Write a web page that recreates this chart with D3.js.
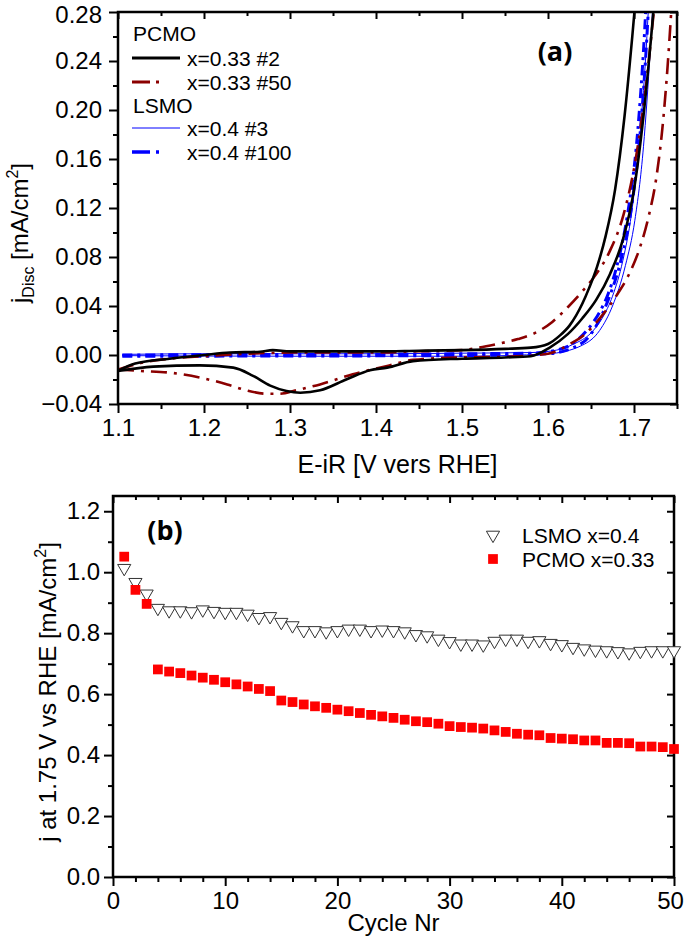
<!DOCTYPE html>
<html><head><meta charset="utf-8">
<script src="https://cdn.jsdelivr.net/npm/d3@7"></script>
<style>body{margin:0;background:#fff} text{font-family:"Liberation Sans",Arial,sans-serif}</style>
</head><body><svg id="c" width="685" height="937"></svg>
<script>
// ---------- DATA (top panel: CV curves, [E (V), j (mA/cm2)]) ----------
const pcmo2Fwd = [[1.1,-0.013],[1.12,-0.007],[1.16,-0.003],[1.2,0],[1.23,0.002],[1.265,0.0027],[1.28,0.004],[1.3,0.003],[1.35,0.003],[1.4,0.003],[1.45,0.0035],[1.5,0.004],[1.55,0.005],[1.58,0.006],[1.6,0.009],[1.614,0.016],[1.625,0.024],[1.64,0.042],[1.648,0.055],[1.657,0.072],[1.667,0.097],[1.678,0.135],[1.689,0.195],[1.698,0.26],[1.703,0.3]];
const pcmo2Rev = [[1.1,-0.013],[1.141,-0.0095],[1.195,-0.0085],[1.234,-0.0103],[1.257,-0.017],[1.277,-0.025],[1.296,-0.0294],[1.312,-0.0308],[1.335,-0.0288],[1.366,-0.0198],[1.393,-0.0124],[1.413,-0.0103],[1.443,-0.005],[1.5,-0.003],[1.55,-0.002],[1.58,-0.001],[1.602,0.006],[1.623,0.017],[1.64,0.03],[1.656,0.045],[1.672,0.066],[1.687,0.094],[1.7,0.135],[1.711,0.195],[1.72,0.26],[1.725,0.3]];
const pcmo50Fwd = [[1.1,-0.012],[1.13,-0.006],[1.16,-0.003],[1.2,-0.001],[1.25,0.001],[1.3,0.002],[1.4,0.002],[1.45,0.003],[1.5,0.004],[1.52,0.006],[1.541,0.009],[1.565,0.013],[1.585,0.018],[1.605,0.027],[1.623,0.039],[1.64,0.052],[1.655,0.065],[1.672,0.085],[1.688,0.115],[1.702,0.16],[1.714,0.22],[1.723,0.28],[1.726,0.3]];
const pcmo50Rev = [[1.1,-0.0117],[1.126,-0.013],[1.16,-0.0144],[1.199,-0.019],[1.227,-0.024],[1.25,-0.029],[1.273,-0.0316],[1.288,-0.0316],[1.308,-0.0286],[1.335,-0.024],[1.373,-0.0157],[1.413,-0.009],[1.443,-0.004],[1.5,-0.002],[1.55,-0.0015],[1.6,0.001],[1.623,0.008],[1.643,0.017],[1.666,0.035],[1.681,0.05],[1.695,0.067],[1.707,0.088],[1.717,0.113],[1.726,0.145],[1.733,0.185],[1.739,0.235],[1.743,0.277],[1.745,0.3]];
const lsmo3Fwd = [[1.105,0.0005],[1.2,0.001],[1.3,0.001],[1.4,0.001],[1.5,0.0015],[1.58,0.002],[1.61,0.004],[1.63,0.009],[1.65,0.018],[1.663,0.03],[1.675,0.048],[1.687,0.077],[1.697,0.115],[1.707,0.18],[1.715,0.26],[1.718,0.3]];
const lsmo3Rev = [[1.105,-0.0005],[1.3,-0.001],[1.5,-0.001],[1.6,0.001],[1.64,0.008],[1.66,0.02],[1.675,0.04],[1.69,0.073],[1.701,0.11],[1.711,0.17],[1.719,0.25],[1.723,0.3]];
const lsmo100Fwd = [[1.105,0.0],[1.3,0.0005],[1.5,0.001],[1.58,0.0015],[1.61,0.004],[1.63,0.01],[1.645,0.02],[1.66,0.035],[1.67,0.05],[1.682,0.078],[1.693,0.117],[1.704,0.18],[1.712,0.26],[1.715,0.3]];
const lsmo100Rev = [[1.105,-0.001],[1.5,-0.0005],[1.6,0.001],[1.64,0.01],[1.657,0.025],[1.67,0.045],[1.685,0.078],[1.697,0.12],[1.707,0.18],[1.715,0.26],[1.718,0.3]];

// ---------- DATA (bottom panel: j at 1.75 V vs cycle) ----------
const cycles = d3.range(1, 51);
const lsmoJ = [1.013,0.967,0.929,0.882,0.874,0.874,0.871,0.877,0.872,0.869,0.869,0.863,0.852,0.855,0.836,0.825,0.809,0.809,0.805,0.809,0.814,0.814,0.809,0.811,0.809,0.805,0.796,0.792,0.781,0.773,0.765,0.765,0.762,0.774,0.781,0.781,0.774,0.776,0.767,0.763,0.754,0.749,0.745,0.743,0.740,0.736,0.741,0.743,0.743,0.743];
const pcmoJ = [1.051,0.942,0.896,0.681,0.674,0.669,0.661,0.654,0.647,0.639,0.632,0.625,0.617,0.610,0.579,0.574,0.566,0.560,0.555,0.549,0.544,0.538,0.532,0.527,0.522,0.516,0.511,0.508,0.503,0.495,0.492,0.490,0.487,0.481,0.476,0.470,0.467,0.465,0.456,0.454,0.452,0.448,0.448,0.440,0.440,0.439,0.428,0.428,0.426,0.420];

// ---------- TICKS ----------
const topXMajor = [1.1,1.2,1.3,1.4,1.5,1.6,1.7];
const topXMinor = [1.15,1.25,1.35,1.45,1.55,1.65,1.75];
const topYMajor = [-0.04,0,0.04,0.08,0.12,0.16,0.2,0.24,0.28];
const topYMinor = [-0.02,0.02,0.06,0.1,0.14,0.18,0.22,0.26];
const botXMajor = [0,10,20,30,40,50];
const botXMinor = [2,4,6,8,12,14,16,18,22,24,26,28,32,34,36,38,42,44,46,48];
const botYMajor = [0,0.2,0.4,0.6,0.8,1.0,1.2];
const botYMinor = [0.1,0.3,0.5,0.7,0.9,1.1];

const svg = d3.select('#c');
const TICKFONT = 24;

const xTop = d3.scaleLinear().domain([1.1,1.75]).range([118,677]);
const yTop = d3.scaleLinear().domain([-0.04,0.28]).range([404,12]);
const xBot = d3.scaleLinear().domain([0,50]).range([113,674]);
const yBot = d3.scaleLinear().domain([0,1.25]).range([877,496]);

function frame(x, y, xMaj, xMin, yMaj, yMin, xFmt, yFmt, padX, padY) {
  const [x0,x1] = x.range(), [y0,y1] = y.range();
  const g = svg.append('g');
  const style = sel => { sel.select('.domain').remove(); sel.selectAll('line').attr('stroke','#000').attr('stroke-width',2); sel.selectAll('text').attr('font-size',TICKFONT).attr('fill','#000').attr('font-family','"Liberation Sans",Arial,sans-serif'); };
  const bx = g.append('g').attr('transform',`translate(0,${y0})`).call(d3.axisBottom(x).tickValues(xMaj).tickSize(9).tickPadding(padX).tickFormat(xFmt)).call(style);
  g.append('g').attr('transform',`translate(0,${y0})`).call(d3.axisBottom(x).tickValues(xMin).tickSize(5).tickFormat('')).call(style);
  g.append('g').attr('transform',`translate(0,${y1})`).call(d3.axisTop(x).tickValues(xMaj).tickSize(-7).tickFormat('')).call(style);
  g.append('g').attr('transform',`translate(0,${y1})`).call(d3.axisTop(x).tickValues(xMin).tickSize(-4).tickFormat('')).call(style);
  const ly = g.append('g').attr('transform',`translate(${x0},0)`).call(d3.axisLeft(y).tickValues(yMaj).tickSize(9).tickPadding(padY).tickFormat(yFmt)).call(style);
  g.append('g').attr('transform',`translate(${x0},0)`).call(d3.axisLeft(y).tickValues(yMin).tickSize(5).tickFormat('')).call(style);
  g.append('g').attr('transform',`translate(${x1},0)`).call(d3.axisRight(y).tickValues(yMaj).tickSize(-7).tickFormat('')).call(style);
  g.append('g').attr('transform',`translate(${x1},0)`).call(d3.axisRight(y).tickValues(yMin).tickSize(-4).tickFormat('')).call(style);
  g.append('rect').attr('x',x0).attr('y',y1).attr('width',x1-x0).attr('height',y0-y1)
    .attr('fill','none').attr('stroke','#000').attr('stroke-width',2.5);
  return {bx, ly};
}

// ---------- TOP PANEL ----------
svg.append('clipPath').attr('id','clipTop').append('rect')
  .attr('x',xTop.range()[0]).attr('y',yTop.range()[1]).attr('width',xTop.range()[1]-xTop.range()[0]).attr('height',yTop.range()[0]-yTop.range()[1]);
const line = d3.line().x(d=>xTop(d[0])).y(d=>yTop(d[1])).curve(d3.curveMonotoneX);
const curves = svg.append('g').attr('clip-path','url(#clipTop)');
const series = [
  {d:lsmo3Fwd, c:'#0000ff', w:1, dash:null},
  {d:lsmo3Rev, c:'#0000ff', w:1, dash:null},
  {d:lsmo100Fwd, c:'#0000ff', w:3, dash:'10,5,3,5'},
  {d:lsmo100Rev, c:'#0000ff', w:3, dash:'10,5,3,5'},
  {d:pcmo50Fwd, c:'#8b0000', w:2.6, dash:'16,7,3,7'},
  {d:pcmo50Rev, c:'#8b0000', w:2.6, dash:'16,7,3,7'},
  {d:pcmo2Fwd, c:'#000', w:2.6, dash:null},
  {d:pcmo2Rev, c:'#000', w:2.6, dash:null},
];
series.forEach(s => curves.append('path').attr('d', line(s.d)).attr('fill','none')
  .attr('stroke', s.c).attr('stroke-width', s.w).attr('stroke-dasharray', s.dash));

const topAx = frame(xTop, yTop, topXMajor, topXMinor, topYMajor, topYMinor, d3.format('.1f'), d3.format('.2f'), 6, 7);
topAx.ly.selectAll('.tick text').filter(d => d === 0.28).attr('dy', '0.45em');

// legend (top)
const lg = svg.append('g').attr('font-size',21);
lg.append('text').attr('x',133).attr('y',40.5).text('PCMO');
lg.append('text').attr('x',133).attr('y',112.5).text('LSMO');
const legItems = [
  {y:58, t:'x=0.33 #2', c:'#000', w:3, dash:null, x2:180},
  {y:82, t:'x=0.33 #50', c:'#8b0000', w:3, dash:'18,6,3,6', x2:161},
  {y:128, t:'x=0.4 #3', c:'#0000ff', w:1, dash:null, x2:180},
  {y:152, t:'x=0.4 #100', c:'#0000ff', w:3.5, dash:'18,6,3,6', x2:161},
];
legItems.forEach(it => {
  lg.append('line').attr('x1',132).attr('x2',it.x2).attr('y1',it.y).attr('y2',it.y)
    .attr('stroke',it.c).attr('stroke-width',it.w).attr('stroke-dasharray',it.dash);
  lg.append('text').attr('x',187).attr('y',it.y+7.5).text(it.t);
});
svg.append('text').attr('x',555).attr('y',61).attr('text-anchor','middle')
  .style('font-family','"Open Sans",sans-serif').attr('font-weight','bold').attr('font-size',27).text('(a)');

// axis titles (top)
svg.append('text').attr('x',(xTop.range()[0]+xTop.range()[1])/2).attr('y',473).attr('text-anchor','middle')
  .attr('font-size',25).text('E-iR [V vers RHE]');
const yt = svg.append('text').attr('transform','translate(28,233) rotate(-90)').attr('text-anchor','middle').attr('font-size',24);
yt.append('tspan').text('j');
yt.append('tspan').attr('font-size',16).attr('dy',6).text('Disc');
yt.append('tspan').attr('dy',-6).text(' [mA/cm');
yt.append('tspan').attr('font-size',16).attr('dy',-10).text('2');
yt.append('tspan').attr('dy',10).text(']');

// ---------- BOTTOM PANEL ----------
const botAx = frame(xBot, yBot, botXMajor, botXMinor, botYMajor, botYMinor, d3.format('d'), d3.format('.1f'), 6, 4);
botAx.bx.selectAll('.tick text').filter(d => d === 50).attr('dx', -4);

const tri = d3.symbol().type(d3.symbolTriangle).size(75);
const sq = d3.symbol().type(d3.symbolSquare).size(95);
svg.append('g').selectAll('path').data(cycles).join('path')
  .attr('d', tri).attr('transform', (c,i) => `translate(${xBot(c)},${yBot(lsmoJ[i])}) rotate(180)`)
  .attr('fill','#fff').attr('stroke','#333').attr('stroke-width',1);
svg.append('g').selectAll('path').data(cycles).join('path')
  .attr('d', sq).attr('transform', (c,i) => `translate(${xBot(c)},${yBot(pcmoJ[i])})`)
  .attr('fill','#ff0000');

// legend (bottom)
svg.append('path').attr('d',tri).attr('transform','translate(493,535) rotate(180)').attr('fill','#fff').attr('stroke','#333');
svg.append('path').attr('d',sq).attr('transform','translate(493,559)').attr('fill','#ff0000');
svg.append('text').attr('x',522).attr('y',542.5).attr('font-size',21).text('LSMO x=0.4');
svg.append('text').attr('x',522).attr('y',566.5).attr('font-size',21).text('PCMO x=0.33');
svg.append('text').attr('x',165).attr('y',540).attr('text-anchor','middle')
  .style('font-family','"Open Sans",sans-serif').attr('font-weight','bold').attr('font-size',27).text('(b)');

svg.append('text').attr('x',(xBot.range()[0]+xBot.range()[1])/2).attr('y',931).attr('text-anchor','middle')
  .attr('font-size',24).text('Cycle Nr');
const yb = svg.append('text').attr('transform','translate(56,692) rotate(-90)').attr('text-anchor','middle').attr('font-size',24);
yb.append('tspan').text('j at 1.75 V vs RHE [mA/cm');
yb.append('tspan').attr('font-size',16).attr('dy',-10).text('2');
yb.append('tspan').attr('dy',10).text(']');
</script></body></html>
